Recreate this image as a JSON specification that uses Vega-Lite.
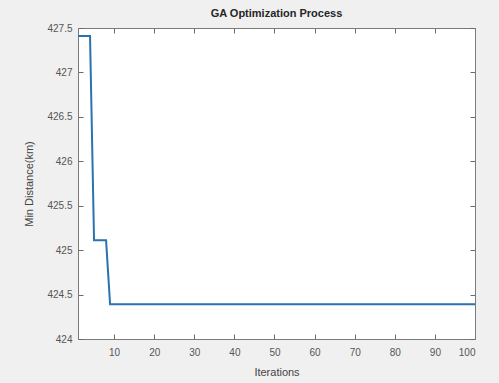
{
  "$schema": "https://vega.github.io/schema/vega-lite/v6.json",
  "autosize": {"type": "none"},
  "padding": {"left": 78, "top": 28, "right": 24, "bottom": 44},
  "width": 397,
  "height": 311,
  "background": "#f0f0f0",
  "title": {
    "text": "GA Optimization Process",
    "font": "Liberation Sans",
    "fontSize": 11,
    "fontWeight": "bold",
    "color": "#262626",
    "offset": 4
  },
  "config": {
    "view": {"fill": "white", "stroke": null},
    "axis": {
      "grid": false,
      "domainColor": "#7a7a7a",
      "domainWidth": 1,
      "tickColor": "#6a6a6a",
      "tickSize": -5,
      "labelFont": "Liberation Sans",
      "labelFontSize": 10,
      "labelColor": "#555555",
      "titleFont": "Liberation Sans",
      "titleFontSize": 11,
      "titleFontWeight": "normal",
      "titleColor": "#444444"
    }
  },
  "data": {
    "values": [
      {"iter": 1, "dist": 427.41}, {"iter": 2, "dist": 427.41}, {"iter": 3, "dist": 427.41}, {"iter": 4, "dist": 427.41},
      {"iter": 5, "dist": 425.11}, {"iter": 6, "dist": 425.11}, {"iter": 7, "dist": 425.11}, {"iter": 8, "dist": 425.11},
      {"iter": 9, "dist": 424.39}, {"iter": 10, "dist": 424.39}, {"iter": 11, "dist": 424.39}, {"iter": 12, "dist": 424.39},
      {"iter": 13, "dist": 424.39}, {"iter": 14, "dist": 424.39}, {"iter": 15, "dist": 424.39}, {"iter": 16, "dist": 424.39},
      {"iter": 17, "dist": 424.39}, {"iter": 18, "dist": 424.39}, {"iter": 19, "dist": 424.39}, {"iter": 20, "dist": 424.39},
      {"iter": 21, "dist": 424.39}, {"iter": 22, "dist": 424.39}, {"iter": 23, "dist": 424.39}, {"iter": 24, "dist": 424.39},
      {"iter": 25, "dist": 424.39}, {"iter": 26, "dist": 424.39}, {"iter": 27, "dist": 424.39}, {"iter": 28, "dist": 424.39},
      {"iter": 29, "dist": 424.39}, {"iter": 30, "dist": 424.39}, {"iter": 31, "dist": 424.39}, {"iter": 32, "dist": 424.39},
      {"iter": 33, "dist": 424.39}, {"iter": 34, "dist": 424.39}, {"iter": 35, "dist": 424.39}, {"iter": 36, "dist": 424.39},
      {"iter": 37, "dist": 424.39}, {"iter": 38, "dist": 424.39}, {"iter": 39, "dist": 424.39}, {"iter": 40, "dist": 424.39},
      {"iter": 41, "dist": 424.39}, {"iter": 42, "dist": 424.39}, {"iter": 43, "dist": 424.39}, {"iter": 44, "dist": 424.39},
      {"iter": 45, "dist": 424.39}, {"iter": 46, "dist": 424.39}, {"iter": 47, "dist": 424.39}, {"iter": 48, "dist": 424.39},
      {"iter": 49, "dist": 424.39}, {"iter": 50, "dist": 424.39}, {"iter": 51, "dist": 424.39}, {"iter": 52, "dist": 424.39},
      {"iter": 53, "dist": 424.39}, {"iter": 54, "dist": 424.39}, {"iter": 55, "dist": 424.39}, {"iter": 56, "dist": 424.39},
      {"iter": 57, "dist": 424.39}, {"iter": 58, "dist": 424.39}, {"iter": 59, "dist": 424.39}, {"iter": 60, "dist": 424.39},
      {"iter": 61, "dist": 424.39}, {"iter": 62, "dist": 424.39}, {"iter": 63, "dist": 424.39}, {"iter": 64, "dist": 424.39},
      {"iter": 65, "dist": 424.39}, {"iter": 66, "dist": 424.39}, {"iter": 67, "dist": 424.39}, {"iter": 68, "dist": 424.39},
      {"iter": 69, "dist": 424.39}, {"iter": 70, "dist": 424.39}, {"iter": 71, "dist": 424.39}, {"iter": 72, "dist": 424.39},
      {"iter": 73, "dist": 424.39}, {"iter": 74, "dist": 424.39}, {"iter": 75, "dist": 424.39}, {"iter": 76, "dist": 424.39},
      {"iter": 77, "dist": 424.39}, {"iter": 78, "dist": 424.39}, {"iter": 79, "dist": 424.39}, {"iter": 80, "dist": 424.39},
      {"iter": 81, "dist": 424.39}, {"iter": 82, "dist": 424.39}, {"iter": 83, "dist": 424.39}, {"iter": 84, "dist": 424.39},
      {"iter": 85, "dist": 424.39}, {"iter": 86, "dist": 424.39}, {"iter": 87, "dist": 424.39}, {"iter": 88, "dist": 424.39},
      {"iter": 89, "dist": 424.39}, {"iter": 90, "dist": 424.39}, {"iter": 91, "dist": 424.39}, {"iter": 92, "dist": 424.39},
      {"iter": 93, "dist": 424.39}, {"iter": 94, "dist": 424.39}, {"iter": 95, "dist": 424.39}, {"iter": 96, "dist": 424.39},
      {"iter": 97, "dist": 424.39}, {"iter": 98, "dist": 424.39}, {"iter": 99, "dist": 424.39}, {"iter": 100, "dist": 424.39}
    ]
  },
  "layer": [
    {
      "mark": {"type": "line", "color": "#2a72b0", "strokeWidth": 2, "clip": true},
      "encoding": {
        "x": {
          "field": "iter", "type": "quantitative",
          "scale": {"domain": [1, 100], "nice": false, "zero": false},
          "axis": {
            "orient": "bottom", "title": "Iterations",
            "values": [10, 20, 30, 40, 50, 60, 70, 80, 90, 100],
            "labelPadding": 13, "titlePadding": 9
          }
        },
        "y": {
          "field": "dist", "type": "quantitative",
          "scale": {"domain": [424, 427.5], "nice": false, "zero": false},
          "axis": {
            "orient": "left", "title": "Min Distance(km)",
            "values": [424, 424.5, 425, 425.5, 426, 426.5, 427, 427.5],
            "format": ".1~f",
            "labelPadding": 11, "titlePadding": 12
          }
        }
      }
    },
    {
      "mark": {"type": "line", "opacity": 0},
      "encoding": {
        "x": {
          "field": "iter", "type": "quantitative",
          "axis": {
            "orient": "top", "title": null, "labels": false,
            "values": [10, 20, 30, 40, 50, 60, 70, 80, 90, 100]
          }
        },
        "y": {
          "field": "dist", "type": "quantitative",
          "axis": {
            "orient": "right", "title": null, "labels": false,
            "values": [424, 424.5, 425, 425.5, 426, 426.5, 427, 427.5]
          }
        }
      }
    }
  ],
  "resolve": {"axis": {"x": "independent", "y": "independent"}}
}
